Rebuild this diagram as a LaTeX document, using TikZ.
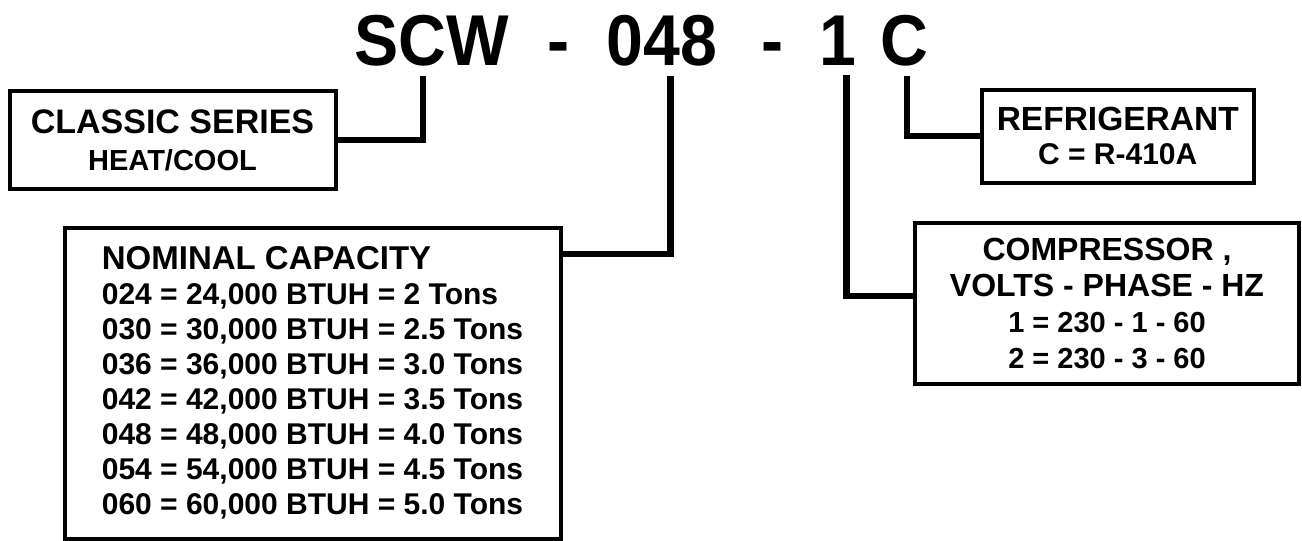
\documentclass[tikz,border=0pt]{standalone}
\usepackage{fontspec}
\setmainfont{Liberation Sans}
\newfontfamily\codefont{Liberation Sans}[FakeStretch=0.92]
\begin{document}
\begin{tikzpicture}[x=0.5pt,y=-0.5pt,
  code/.style={font=\codefont\bfseries\fontsize{36}{40}\selectfont, anchor=base, inner xsep=0pt, inner ysep=5pt},
  box/.style={draw, line width=2pt, inner sep=0pt},
  link/.style={line width=3.25pt}]
\useasboundingbox (0,0) rectangle (1302,541);
\node[code] (series) at (431.5,65) {SCW};
\node[code] (dash1) at (559,65) {-};
\node[code] (capacity) at (662,65) {048};
\node[code] (dash2) at (772.5,65) {-};
\node[code] (voltage) at (837.5,65) {1};
\node[code] (refcode) at (904,65) {C};
\node[box, align=center, minimum width=163pt, minimum height=49pt, font=\bfseries\fontsize{14.5}{18.5}\selectfont] (seriesbox) at (172.5,140) {{\fontsize{17}{18.5}\selectfont CLASSIC SERIES}\\HEAT/COOL};
\node[box, align=left, minimum width=248pt, minimum height=155.5pt, font=\bfseries\fontsize{15}{17.5}\selectfont] (capbox) at (312.5,383) {{\fontsize{16.5}{17.5}\selectfont NOMINAL CAPACITY}\\
  024 = 24,000 BTUH = 2 Tons\\
  030 = 30,000 BTUH = 2.5 Tons\\
  036 = 36,000 BTUH = 3.0 Tons\\
  042 = 42,000 BTUH = 3.5 Tons\\
  048 = 48,000 BTUH = 4.0 Tons\\
  054 = 54,000 BTUH = 4.5 Tons\\
  060 = 60,000 BTUH = 5.0 Tons};
\node[box, align=center, minimum width=136.25pt, minimum height=46.5pt, font=\bfseries\fontsize{15}{17}\selectfont] (refbox) at (1117.75,136) {{\fontsize{16.75}{17}\selectfont REFRIGERANT}\\C = R-410A};
\node[box, align=center, minimum width=192pt, minimum height=80.5pt, font=\bfseries\fontsize{14.5}{18}\selectfont] (voltbox) at (1107,303.5) {{\fontsize{16}{18}\selectfont COMPRESSOR ,}\\{\fontsize{16}{18}\selectfont VOLTS - PHASE - HZ}\\1 = 230 - 1 - 60\\2 = 230 - 3 - 60};
\draw[link] ([xshift=-4.25pt]series.south) |- (seriesbox.east);
\draw[link] ([xshift=4.25pt]capacity.south) |- ([yshift=-14.25pt]capbox.north east);
\draw[link] ([xshift=4.5pt]voltage.south) |- ([yshift=3.75pt]voltbox.west);
\draw[link] ([xshift=1.5pt]refcode.south) |- (refbox.west);
\end{tikzpicture}
\end{document}
